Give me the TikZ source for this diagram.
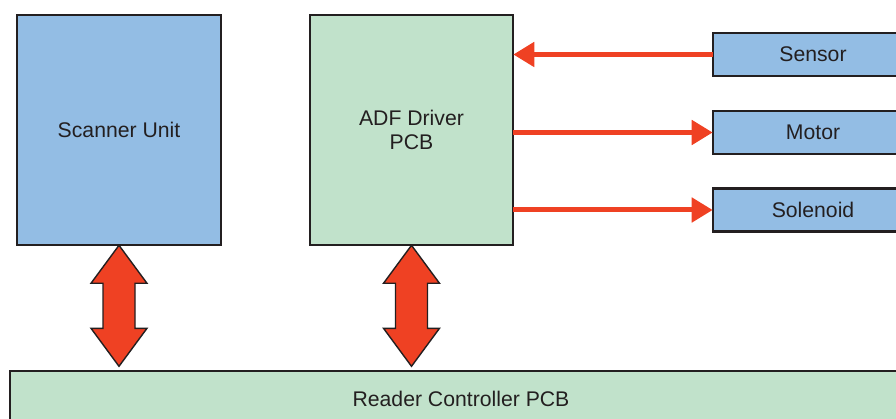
\documentclass[tikz,border=0pt]{standalone}
\usepackage{fontspec}
\setmainfont{Liberation Sans}
\usetikzlibrary{arrows.meta}
\definecolor{boxblue}{HTML}{93BDE4}
\definecolor{boxgreen}{HTML}{C1E2CB}
\definecolor{arrred}{HTML}{EF4123}
\definecolor{dark}{HTML}{231F20}
\tikzset{
  blk/.style={draw=dark, line width=2.6pt, text=dark, inner sep=0pt, outer sep=0.3pt, align=center,
    font=\fontsize{21.2}{24}\selectfont},
  bluebox/.style={blk, fill=boxblue},
  greenbox/.style={blk, fill=boxgreen},
  redarrow/.style={draw=arrred, line width=5pt, -{Triangle[length=21pt,width=24pt]}},
  dblarrow/.style={draw=dark, fill=arrred, line width=1.4pt, line join=miter},
}
\begin{document}
\begin{tikzpicture}[x=1pt,y=-1pt]
\useasboundingbox (0,0) rectangle (896,419);
\clip (0,0) rectangle (896,419);
\node[bluebox, minimum width=204pt, minimum height=230pt] (scanner) at (119,130) {Scanner Unit};
\node[greenbox, minimum width=203pt, minimum height=230pt] (adf) at (411.5,130) {ADF Driver\\PCB};
\node[bluebox, minimum width=200pt, minimum height=43pt] (sensor) at (813,54.5) {Sensor};
\node[bluebox, minimum width=200pt, minimum height=43pt] (motor) at (813,132.5) {Motor};
\node[bluebox, minimum width=200pt, minimum height=43pt] (solenoid) at (813,210) {Solenoid};
\node[greenbox, minimum width=902pt, minimum height=56pt] (reader) at (461,399) {Reader Controller PCB};
\draw[redarrow] (sensor.west) -- (sensor.west -| adf.east);
\draw[redarrow] (motor.west -| adf.east) -- (motor.west);
\draw[redarrow] (solenoid.west -| adf.east) -- (solenoid.west);
\draw[dblarrow] (scanner.south) -- ++(28,38) -- ++(-12,0) -- ++(0,45) -- ++(12,0) -- ++(-28,38) -- ++(-28,-38) -- ++(12,0) -- ++(0,-45) -- ++(-12,0) -- cycle;
\draw[dblarrow] (adf.south) -- ++(28,38) -- ++(-12,0) -- ++(0,45) -- ++(12,0) -- ++(-28,38) -- ++(-28,-38) -- ++(12,0) -- ++(0,-45) -- ++(-12,0) -- cycle;
\end{tikzpicture}
\end{document}
